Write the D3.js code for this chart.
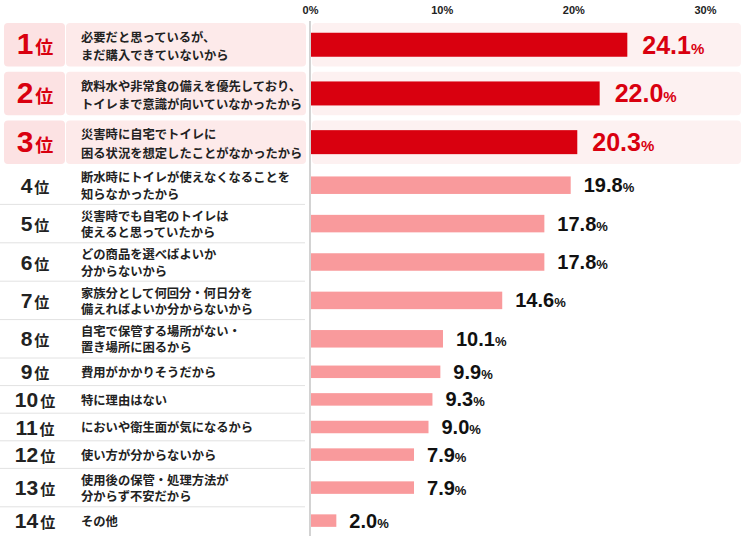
<!DOCTYPE html>
<html>
<head>
<meta charset="utf-8">
<script src="https://cdn.jsdelivr.net/npm/d3@7"></script>
<style>
  html, body { margin: 0; padding: 0; background: #fff; }
</style>
</head>
<body>
<div id="idChart"></div>
<script>
// Data
// -------------------
let ranks = [1, 2, 3, 4, 5, 6, 7, 8, 9, 10, 11, 12, 13, 14];
let reasons = [
  ["必要だと思っているが、", "まだ購入できていないから"],
  ["飲料水や非常食の備えを優先しており、", "トイレまで意識が向いていなかったから"],
  ["災害時に自宅でトイレに", "困る状況を想定したことがなかったから"],
  ["断水時にトイレが使えなくなることを", "知らなかったから"],
  ["災害時でも自宅のトイレは", "使えると思っていたから"],
  ["どの商品を選べばよいか", "分からないから"],
  ["家族分として何回分・何日分を", "備えればよいか分からないから"],
  ["自宅で保管する場所がない・", "置き場所に困るから"],
  ["費用がかかりそうだから"],
  ["特に理由はない"],
  ["においや衛生面が気になるから"],
  ["使い方が分からないから"],
  ["使用後の保管・処理方法が", "分からず不安だから"],
  ["その他"]
];
let values = [24.1, 22.0, 20.3, 19.8, 17.8, 17.8, 14.6, 10.1, 9.9, 9.3, 9.0, 7.9, 7.9, 2.0];
let tick_values = [0, 10, 20, 30];
// -------------------

let W = 745, H = 558;
let red = "#d9000f";
let pink = "#f99a9c";
let num_font = "'Liberation Sans', Arial, sans-serif";
let jp_font = "'Noto Sans CJK JP', 'Noto Sans', sans-serif";

let svg = d3.select("#idChart")
  .append("svg")
  .attr("width", W)
  .attr("height", H)
  .attr("xmlns", "http://www.w3.org/2000/svg");

let x = d3.scaleLinear().domain([0, 30]).range([310, 705]);

// row layout: top 3 are highlighted boxes, rest depend on line count
let rows = [];
let y_cur = 23;
ranks.forEach((r, i) => {
  let h;
  if (r <= 3) {
    h = 43.5;
    rows.push({ i: i, y0: y_cur, h: h, top: true });
    y_cur += 48.7;
    if (r === 3) y_cur = 166;
  } else {
    h = reasons[i].length === 2 ? 38.4 : 27.6;
    rows.push({ i: i, y0: y_cur, h: h, top: false });
    y_cur += h;
  }
});

function barH(r) {
  if (r <= 3) return 24;
  if (r <= 8) return 17.5;
  return 12.5;
}

// Highlight boxes for top 3
// -------------------
let top_rows = rows.filter(d => d.top);
svg.selectAll(".box-rank").data(top_rows).enter().append("rect")
  .attr("x", 4).attr("y", d => d.y0).attr("width", 61).attr("height", d => d.h)
  .attr("rx", 4).attr("fill", "#fce2e3");
svg.selectAll(".box-text").data(top_rows).enter().append("rect")
  .attr("x", 66).attr("y", d => d.y0).attr("width", 240).attr("height", d => d.h)
  .attr("rx", 4).attr("fill", "#fdeaea");
svg.selectAll(".box-chart").data(top_rows).enter().append("rect")
  .attr("x", 312).attr("y", d => d.y0).attr("width", 429).attr("height", d => d.h)
  .attr("rx", 4).attr("fill", "#fdf1f1");

// Row separators (rows 4..13)
// -------------------
svg.selectAll(".sep").data(rows.filter(d => !d.top && d.i < ranks.length - 1)).enter().append("line")
  .attr("x1", 0).attr("x2", 305)
  .attr("y1", d => d.y0 + d.h).attr("y2", d => d.y0 + d.h)
  .attr("stroke", "#e2e2e2").attr("stroke-width", 1);

// Axis
// -------------------
let axis_g = svg.append("g")
  .attr("transform", "translate(0,17)")
  .call(d3.axisTop(x).tickValues(tick_values).tickSize(0).tickFormat(d => d + "%"));
axis_g.select(".domain").remove();
axis_g.selectAll("text")
  .attr("font-family", num_font)
  .attr("font-weight", "bold")
  .attr("font-size", 11)
  .attr("fill", "#222")
  .attr("dy", 0);

svg.append("line")
  .attr("x1", x(0)).attr("x2", x(0))
  .attr("y1", 21).attr("y2", 536)
  .attr("stroke", "#b5b5b5").attr("stroke-width", 1.2);

// Bars
// -------------------
svg.selectAll(".bar").data(rows).enter().append("rect")
  .attr("x", x(0) + 1)
  .attr("y", d => d.y0 + d.h / 2 - barH(ranks[d.i]) / 2)
  .attr("width", d => x(values[d.i]) - x(0) - 1)
  .attr("height", d => barH(ranks[d.i]))
  .attr("fill", d => d.top ? red : pink);

// Value labels
// -------------------
let val_t = svg.selectAll(".val").data(rows).enter().append("text")
  .attr("x", d => x(values[d.i]) + (d.top ? 15 : 13))
  .attr("y", d => d.y0 + d.h / 2 + (d.top ? 9 : 7))
  .attr("font-family", num_font)
  .attr("font-weight", "bold")
  .attr("fill", d => d.top ? red : "#111");
val_t.append("tspan")
  .attr("font-size", d => d.top ? 25 : 20)
  .text(d => values[d.i].toFixed(1));
val_t.append("tspan")
  .attr("font-size", d => d.top ? 15 : 13)
  .text("%");

// Rank labels
// -------------------
let rank_t = svg.selectAll(".rank").data(rows).enter().append("text")
  .attr("x", 35)
  .attr("y", d => d.y0 + d.h / 2 + (d.top ? 9.5 : 7.5))
  .attr("text-anchor", "middle")
  .attr("font-weight", "bold")
  .attr("fill", d => d.top ? red : "#222");
rank_t.append("tspan")
  .attr("font-family", num_font)
  .attr("font-size", d => d.top ? 30 : 21)
  .text(d => ranks[d.i]);
rank_t.append("tspan")
  .attr("font-family", jp_font)
  .attr("font-size", d => d.top ? 18 : 15)
  .attr("dx", 2)
  .text("位");

// Reason labels
// -------------------
let reason_t = svg.selectAll(".reason").data(rows).enter().append("text")
  .attr("font-family", jp_font)
  .attr("font-weight", "bold")
  .attr("font-size", 12.3)
  .attr("fill", "#222")
  .attr("dominant-baseline", "central");
reason_t.selectAll("tspan")
  .data(d => reasons[d.i].map((s, k) => {
    let n = reasons[d.i].length;
    let gap = d.top ? 18.3 : 16.4;
    let cy = d.y0 + d.h / 2 + (d.top ? 1.3 : 0.3);
    return { s: s, y: cy + (k - (n - 1) / 2) * gap };
  }))
  .enter().append("tspan")
  .attr("x", 81)
  .attr("y", e => e.y)
  .text(e => e.s);
</script>
</body>
</html>
